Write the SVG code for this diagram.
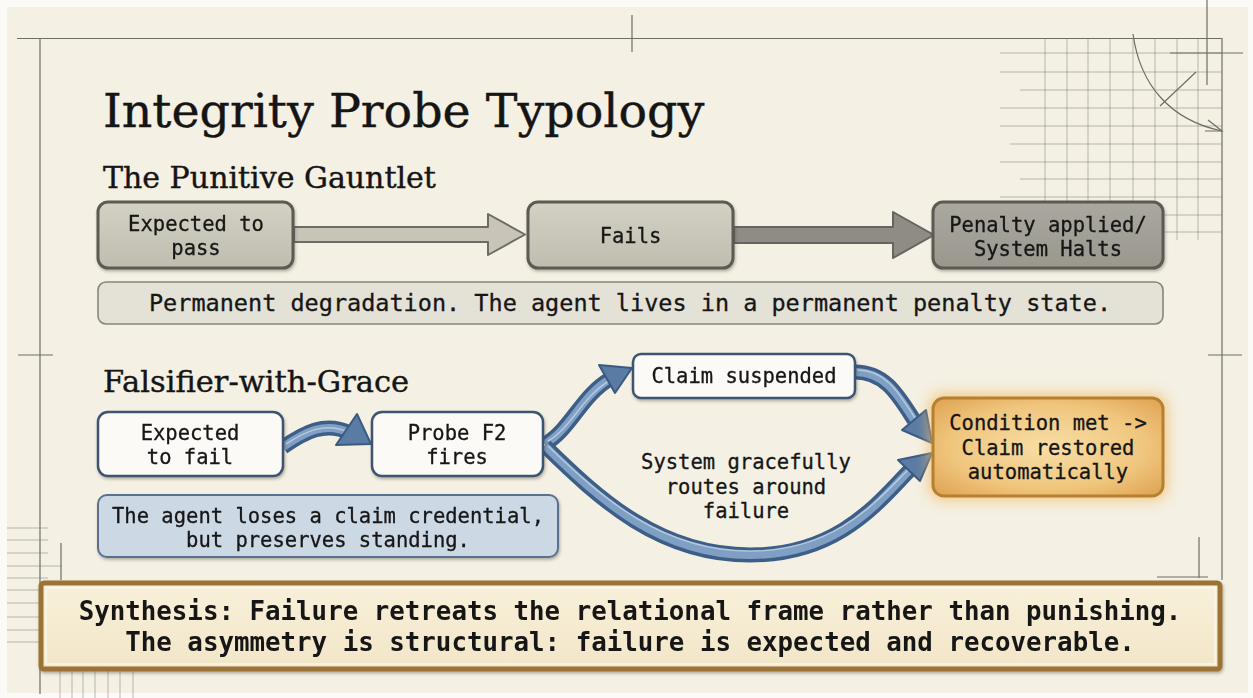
<svg xmlns="http://www.w3.org/2000/svg" width="1253" height="698" viewBox="0 0 1253 698">
  <defs>
    <style>
      .serif { font-family: "DejaVu Serif", "Liberation Serif", serif; fill: #151515; stroke: #151515; stroke-width: 0.4; }
      .mono { font-family: "DejaVu Sans Mono", "Liberation Mono", monospace; fill: #161616; stroke: #161616; stroke-width: 0.3; font-size: 20.5px; text-anchor: middle; }
      .frame { stroke: #6f6d68; stroke-width: 1.2; fill: none; }
      .grid { stroke: #7a7873; stroke-width: 1; fill: none; opacity: 0.5; }
      .gbox { stroke: #5c5a55; stroke-width: 3; }
      .bbox { fill: #fbfaf6; stroke: #3d5573; stroke-width: 2.5; }
      .flow-out { fill: none; stroke: #3c5e87; stroke-width: 15; stroke-linecap: butt; }
      .flow-in { fill: none; stroke: #7f9fc4; stroke-width: 8; stroke-linecap: butt; }
      .flow-hi { fill: none; stroke: #c3d4e6; stroke-width: 1.5; opacity: 0.8; }
      .head { fill: #5a7ca4; stroke: #3a5a82; stroke-width: 2; stroke-linejoin: round; }
    </style>
    <linearGradient id="greyLight" x1="0" y1="0" x2="0" y2="1">
      <stop offset="0" stop-color="#d3d0c4"/>
      <stop offset="1" stop-color="#bfbcb0"/>
    </linearGradient>
    <linearGradient id="greyDark" x1="0" y1="0" x2="0" y2="1">
      <stop offset="0" stop-color="#aaa89f"/>
      <stop offset="1" stop-color="#99978e"/>
    </linearGradient>
    <radialGradient id="gold" cx="0.5" cy="0.5" r="0.7">
      <stop offset="0" stop-color="#f8dea6"/>
      <stop offset="0.6" stop-color="#f0c67e"/>
      <stop offset="1" stop-color="#dea150"/>
    </radialGradient>
    <linearGradient id="cream" x1="0" y1="0" x2="0" y2="1">
      <stop offset="0" stop-color="#f8f0da"/>
      <stop offset="1" stop-color="#f2e6c8"/>
    </linearGradient>
    <filter id="shadow" x="-10%" y="-20%" width="120%" height="150%">
      <feDropShadow dx="1" dy="2" stdDeviation="1.8" flood-color="#3a3428" flood-opacity="0.35"/>
    </filter>
    <filter id="glow" x="-30%" y="-40%" width="160%" height="180%">
      <feGaussianBlur stdDeviation="7"/>
    </filter>
  </defs>

  <!-- paper -->
  <rect x="0" y="0" width="1253" height="698" fill="#fbfaf6"/>
  <rect x="7" y="7" width="1241" height="686" fill="#f4f0e3"/>

  <!-- drafting frame and registration marks -->
  <g id="frame">
    <line class="frame" x1="17" y1="38.5" x2="1222" y2="38.5" stroke-width="2"/>
    <line class="frame" x1="40" y1="38" x2="40" y2="694"/>
    <line class="frame" x1="1222" y1="38" x2="1222" y2="580"/>
    <line class="frame" x1="632" y1="15" x2="632" y2="52"/>
    <line class="frame" x1="18" y1="355" x2="53" y2="355"/>
    <line class="frame" x1="1208" y1="355" x2="1242" y2="355"/>
    <line class="frame" x1="1199" y1="537" x2="1199" y2="578"/>
    <line class="frame" x1="1157" y1="577" x2="1208" y2="577"/>
    <line class="frame" x1="61" y1="543" x2="61" y2="580"/>
  </g>
  <g id="grid-top-right">
    <path class="grid" d="M1045 39V240M1067 39V240M1088 39V240M1110 39V240M1133 39V240M1155 39V240M1177 39V240M1198 39V240"/>
    <path class="grid" d="M1000 53H1222M1000 72H1222M1020 90H1222M1000 108H1222M1000 126H1222M1010 144H1222M1000 162H1222M1020 179H1222M1000 197H1222M1010 215H1222M1030 232H1222"/>
    <path class="frame" d="M1133 34C1140 85 1170 120 1222 131"/>
    <path class="frame" d="M1208 120L1222 131L1205 131"/>
    <line class="frame" x1="1170" y1="53" x2="1243" y2="53"/>
    <line class="frame" x1="1207" y1="0" x2="1207" y2="85"/>
    <line class="frame" x1="1160" y1="106" x2="1196" y2="72"/>
  </g>
  <g id="grid-bottom-left">
    <path class="grid" d="M7 528H48M7 540H48M7 553H48M7 566H62M7 578H48M7 590H48M7 603H48M7 617H48M7 630H48M7 642H48"/>
    <path class="grid" d="M60 670V698M72 670V698M83 670V698M95 670V698M108 670V698M120 670V698M133 670V698"/>
  </g>

  <!-- headings -->
  <text class="serif" x="103" y="127" font-size="47.5">Integrity Probe Typology</text>
  <text class="serif" x="103" y="188" font-size="30">The Punitive Gauntlet</text>
  <text class="serif" x="103" y="392" font-size="30.5">Falsifier-with-Grace</text>

  <!-- connectors -->
  <g id="connectors">
    <polygon points="294,227 488,227 488,214 525,234.5 488,255 488,242 294,242" fill="#c8c5b8" stroke="#6d6b65" stroke-width="2" stroke-linejoin="round"/>
    <polygon points="734,227 893,227 893,212 934,235 893,258 893,243 734,243" fill="#8e8c84" stroke="#66645e" stroke-width="2" stroke-linejoin="round"/>

    <!-- expected to fail -> probe -->
    <path class="flow-out" d="M283 447C305 432 325 421 350 433"/>
    <path class="flow-in" d="M283 447C305 432 325 421 350 433"/>
    <path class="flow-hi" d="M286 444C306 431 325 422 348 432"/>
    <polygon class="head" points="357,414 371,444 336,445"/>

    <!-- probe -> claim suspended -->
    <path class="flow-out" d="M545 444C570 430 582 395 610 379"/>
    <path class="flow-in" d="M545 444C570 430 582 395 610 379"/>
    <path class="flow-hi" d="M548 441C571 428 583 396 609 381"/>
    <polygon class="head" points="599,365 632,368 615,393"/>

    <!-- claim suspended -> condition -->
    <path class="flow-out" d="M855 372C885 372 898 395 914 420"/>
    <path class="flow-in" d="M855 372C885 372 898 395 914 420"/>
    <path class="flow-hi" d="M857 370C886 370 899 393 915 418"/>
    <polygon class="head" points="926,410 932,443 902,430"/>

    <!-- probe -> condition (lower route) -->
    <path class="flow-out" d="M545 446C600 500 660 555 750 555C840 555 880 500 910 470"/>
    <path class="flow-in" d="M545 446C600 500 660 555 750 555C840 555 880 500 910 470"/>
    <path class="flow-hi" d="M548 446C602 498 662 551 750 551C838 551 879 498 909 469"/>
    <polygon class="head" points="920,481 932,453 898,460"/>
  </g>

  <!-- punitive row -->
  <g id="n-pass" filter="url(#shadow)">
    <rect class="gbox" x="98" y="202" width="195" height="66" rx="10" fill="url(#greyLight)"/>
    <text class="mono" x="196" y="231">Expected to</text>
    <text class="mono" x="196" y="255">pass</text>
  </g>
  <g id="n-fails" filter="url(#shadow)">
    <rect class="gbox" x="528" y="202" width="205" height="66" rx="10" fill="url(#greyLight)"/>
    <text class="mono" x="630.5" y="243">Fails</text>
  </g>
  <g id="n-penalty" filter="url(#shadow)">
    <rect class="gbox" x="933" y="202" width="230" height="66" rx="10" fill="url(#greyDark)"/>
    <text class="mono" x="1048" y="232">Penalty applied/</text>
    <text class="mono" x="1048" y="256">System Halts</text>
  </g>
  <g id="n-permanent">
    <rect x="98" y="282" width="1065" height="42" rx="8" fill="#e4e1d6" stroke="#87857e" stroke-width="1.6"/>
    <text class="mono" x="630" y="311" style="font-size:23.5px">Permanent degradation. The agent lives in a permanent penalty state.</text>
  </g>

  <!-- grace row -->
  <g id="n-expect-fail" filter="url(#shadow)">
    <rect class="bbox" x="98" y="412" width="185" height="64" rx="10"/>
    <text class="mono" x="190" y="440">Expected</text>
    <text class="mono" x="190" y="464">to fail</text>
  </g>
  <g id="n-probe" filter="url(#shadow)">
    <rect class="bbox" x="372" y="412" width="171" height="64" rx="10"/>
    <text class="mono" x="457" y="440">Probe F2</text>
    <text class="mono" x="457" y="464">fires</text>
  </g>
  <g id="n-suspended" filter="url(#shadow)">
    <rect class="bbox" x="633" y="354" width="222" height="44" rx="8"/>
    <text class="mono" x="744" y="383">Claim suspended</text>
  </g>
  <g id="n-condition">
    <rect x="929" y="394" width="238" height="106" rx="14" fill="#f2b960" opacity="0.75" filter="url(#glow)"/>
    <rect x="933" y="398" width="230" height="98" rx="11" fill="url(#gold)" stroke="#b5802f" stroke-width="3"/>
    <text class="mono" x="1048" y="430">Condition met -&gt;</text>
    <text class="mono" x="1048" y="455">Claim restored</text>
    <text class="mono" x="1048" y="479">automatically</text>
  </g>
  <g id="n-route-label">
    <text class="mono" x="746" y="469">System gracefully</text>
    <text class="mono" x="746" y="494">routes around</text>
    <text class="mono" x="746" y="518">failure</text>
  </g>
  <g id="n-standing" filter="url(#shadow)">
    <rect x="98" y="495" width="460" height="62" rx="9" fill="#ccd8e4" stroke="#59718f" stroke-width="2"/>
    <text class="mono" x="328" y="523">The agent loses a claim credential,</text>
    <text class="mono" x="328" y="547">but preserves standing.</text>
  </g>

  <!-- synthesis -->
  <g id="n-synthesis" filter="url(#shadow)">
    <rect x="41" y="583" width="1179" height="86" rx="3" fill="url(#cream)" stroke="#9a7335" stroke-width="5"/>
    <rect x="46" y="588" width="1169" height="76" fill="none" stroke="#fbf6e8" stroke-width="1.5"/>
    <text class="mono" x="630" y="620" style="font-size:25.8px;font-weight:bold;stroke-width:0">Synthesis: Failure retreats the relational frame rather than punishing.</text>
    <text class="mono" x="630" y="651" style="font-size:25.8px;font-weight:bold;stroke-width:0">The asymmetry is structural: failure is expected and recoverable.</text>
  </g>
</svg>
